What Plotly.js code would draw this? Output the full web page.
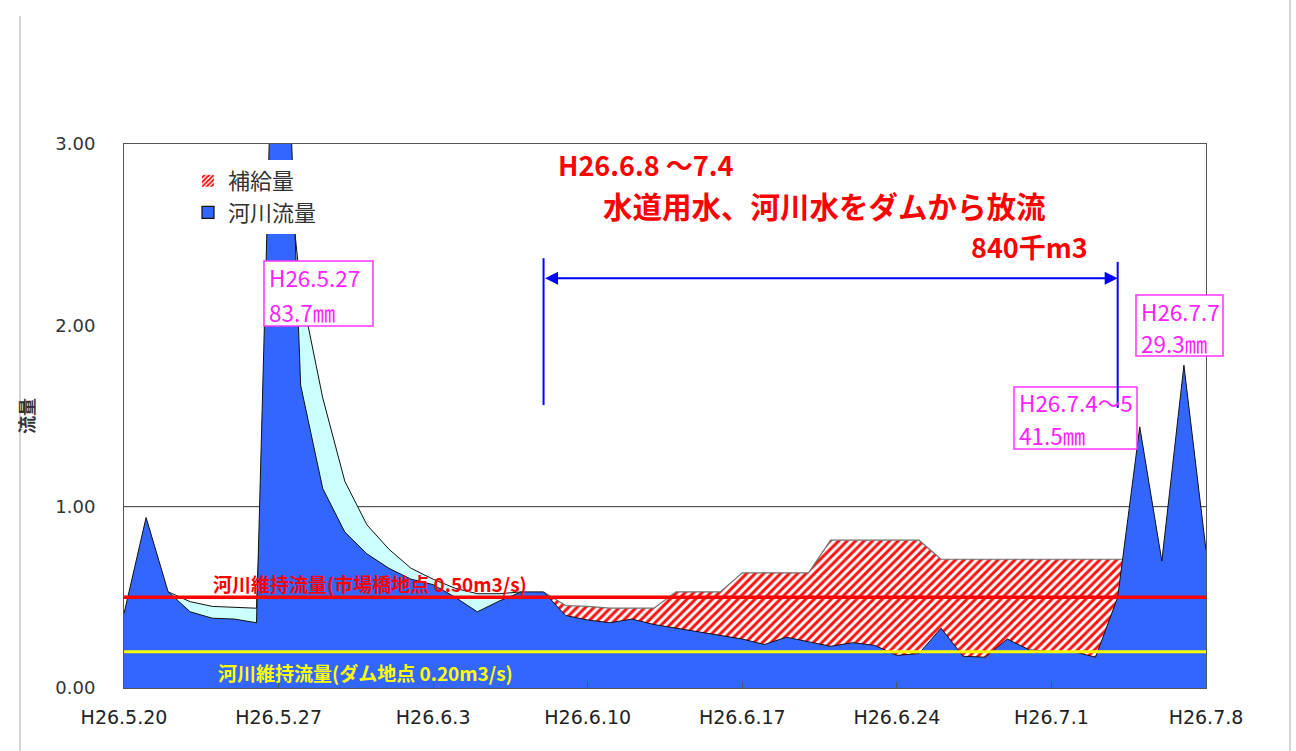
<!DOCTYPE html>
<html><head><meta charset="utf-8">
<script src="https://cdn.plot.ly/plotly-3.0.1.min.js"></script>
<style>html,body{margin:0;padding:0;background:#fff;} #chart{width:1296px;height:751px;}</style>
</head><body><div id="chart"></div>
<script>
// 日付（H26.5.20 〜 H26.7.8）
const dates = [
 '2014-05-20','2014-05-21','2014-05-22','2014-05-23','2014-05-24','2014-05-25','2014-05-26','2014-05-27','2014-05-28','2014-05-29',
 '2014-05-30','2014-05-31','2014-06-01','2014-06-02','2014-06-03','2014-06-04','2014-06-05','2014-06-06','2014-06-07','2014-06-08',
 '2014-06-09','2014-06-10','2014-06-11','2014-06-12','2014-06-13','2014-06-14','2014-06-15','2014-06-16','2014-06-17','2014-06-18',
 '2014-06-19','2014-06-20','2014-06-21','2014-06-22','2014-06-23','2014-06-24','2014-06-25','2014-06-26','2014-06-27','2014-06-28',
 '2014-06-29','2014-06-30','2014-07-01','2014-07-02','2014-07-03','2014-07-04','2014-07-05','2014-07-06','2014-07-07','2014-07-08'];

// 河川流量 (m3/s)
const riverFlow = [
 0.41,0.94,0.53,0.42,0.385,0.38,0.36,4.95,1.67,1.10,
 0.86,0.74,0.66,0.60,0.57,0.50,0.42,0.48,0.53,0.53,
 0.40,0.375,0.36,0.38,0.35,0.33,0.31,0.29,0.27,0.24,
 0.28,0.255,0.23,0.25,0.235,0.18,0.19,0.33,0.175,0.17,
 0.27,0.21,0.20,0.20,0.17,0.50,1.44,0.70,1.78,0.76];

// 補給量を加えた流量 (m3/s)
const supplyFlow = [
 null,null,null,null,null,null,null,null,null,null,
 null,null,null,null,null,null,null,null,null,0.53,
 0.455,0.45,0.44,0.44,0.44,0.53,0.53,0.53,0.635,0.635,
 0.635,0.635,0.815,0.815,0.815,0.815,0.815,0.71,0.71,0.71,
 0.71,0.71,0.71,0.71,0.71,0.71,0.71,null,null,null];

// 水色の流量帯 (m3/s)
const lightFlow = [
 null,null,0.53,0.476,0.45,0.443,0.44,3.4,2.2,1.6,
 1.14,0.90,0.765,0.66,0.60,0.55,0.52,0.52,0.53,null,
 null,null,null,null,null,null,null,null,null,null,
 null,null,null,null,null,null,null,null,null,null,
 null,null,null,null,null,null,null,null,null,null];

const tickDates = ['2014-05-20','2014-05-27','2014-06-03','2014-06-10','2014-06-17','2014-06-24','2014-07-01','2014-07-08'];
const tickLabels = ['H26.5.20','H26.5.27','H26.6.3','H26.6.10','H26.6.17','H26.6.24','H26.7.1','H26.7.8'];
const yTicks = [0, 1, 2, 3];

const marketFlow = 0.50;  // 河川維持流量(市場橋地点)
const damFlow = 0.20;     // 河川維持流量(ダム地点)

const releaseStart = '2014-06-08';
const releaseEnd = '2014-07-04';

const JP = '"Noto Sans CJK JP", "Noto Sans", sans-serif';
const NUM = '"DejaVu Sans", Arial, sans-serif';

const traces = [
  {type:'scatter', mode:'lines', x:dates, y:lightFlow, fill:'tozeroy', fillcolor:'#ccffff',
   line:{color:'#111', width:1}, showlegend:false, hoverinfo:'skip', name:'流量'},
  {type:'scatter', mode:'lines', x:dates, y:supplyFlow, fill:'tozeroy', fillcolor:'#ffffff',
   fillpattern:{shape:'/', fgcolor:'#ff1010', bgcolor:'#ffffff', size:6, solidity:0.5},
   line:{color:'#707070', width:1.2}, showlegend:false, name:'補給量'},
  {type:'scatter', mode:'lines', x:dates, y:riverFlow, fill:'tozeroy', fillcolor:'#3366ff',
   line:{color:'#111', width:1}, showlegend:false, name:'河川流量'},
  {type:'bar', x:[null], y:[null], name:'補給量',
   marker:{color:'#ffffff', pattern:{shape:'/', fgcolor:'#ff0000', bgcolor:'#ffffff', size:4, solidity:0.55}, line:{width:0}}},
  {type:'bar', x:[null], y:[null], name:'河川流量',
   marker:{color:'#3366ff', line:{color:'#111', width:1.2}}}
];

const px = v => (v - 124) / 1082;
const py = v => (688 - v) / 544;

const shapes = [
  {type:'line', xref:'paper', yref:'y', x0:0, x1:1, y0:1, y1:1, layer:'below', line:{color:'#333', width:1}},
  {type:'line', xref:'paper', yref:'y', x0:0, x1:1, y0:marketFlow, y1:marketFlow, line:{color:'#ff0000', width:3.5}},
  {type:'line', xref:'paper', yref:'y', x0:0, x1:1, y0:damFlow, y1:damFlow, line:{color:'#ffff00', width:3}},
  // rain boxes
  {type:'rect', xref:'paper', yref:'paper', x0:px(264), x1:px(373), y0:py(326), y1:py(261), fillcolor:'#fff', line:{color:'#ff33ff', width:1.5}},
  {type:'rect', xref:'paper', yref:'paper', x0:px(1136), x1:px(1223), y0:py(356), y1:py(295), fillcolor:'#fff', line:{color:'#ff33ff', width:1.5}},
  {type:'rect', xref:'paper', yref:'paper', x0:px(1014), x1:px(1137), y0:py(449), y1:py(387), fillcolor:'#fff', line:{color:'#ff33ff', width:1.5}},
  // bracket
  {type:'line', xref:'x', yref:'y', x0:releaseStart, x1:releaseStart, y0:1.56, y1:2.37, line:{color:'#0000ff', width:2}},
  {type:'line', xref:'x', yref:'y', x0:releaseEnd, x1:releaseEnd, y0:1.545, y1:2.35, line:{color:'#0000ff', width:2}},
  // outer frame lines
  {type:'line', xref:'paper', yref:'paper', x0:px(20), x1:px(20), y0:py(16), y1:py(751), line:{color:'#aaa', width:1}},
  {type:'line', xref:'paper', yref:'paper', x0:px(1290), x1:px(1290), y0:py(0), y1:py(751), line:{color:'#aaa', width:1}}
];

const mag = '#ff22ff';
const annotations = [
  {xref:'x', yref:'y', x:releaseEnd, y:2.26, ax:releaseStart, ay:2.26, axref:'x', ayref:'y', text:'',
   showarrow:true, arrowside:'end+start', arrowhead:2, arrowsize:1.3, arrowwidth:2, arrowcolor:'#0000ff'},
  {xref:'paper', yref:'paper', x:px(557), y:py(164), xanchor:'left', yanchor:'middle', showarrow:false, borderpad:0,
   text:'<b>H26.6.8 ～7.4</b>', font:{family:JP, size:27, color:'#ff0000'}},
  {xref:'paper', yref:'paper', x:px(602), y:py(205), xanchor:'left', yanchor:'middle', showarrow:false, borderpad:0,
   text:'<b>水道用水、河川水をダムから放流</b>', font:{family:JP, size:29.5, color:'#ff0000'}},
  {xref:'paper', yref:'paper', x:px(970), y:py(246), xanchor:'left', yanchor:'middle', showarrow:false, borderpad:0,
   text:'<b>840千m3</b>', font:{family:JP, size:27, color:'#ff0000'}},
  {xref:'paper', yref:'paper', x:px(267), y:py(277), xanchor:'left', yanchor:'middle', showarrow:false,
   text:'H26.5.27', font:{family:JP, size:22.5, color:mag}},
  {xref:'paper', yref:'paper', x:px(267), y:py(312), xanchor:'left', yanchor:'middle', showarrow:false,
   text:'83.7㎜', font:{family:JP, size:22.5, color:mag}},
  {xref:'paper', yref:'paper', x:px(1139), y:py(311), xanchor:'left', yanchor:'middle', showarrow:false,
   text:'H26.7.7', font:{family:JP, size:22.5, color:mag}},
  {xref:'paper', yref:'paper', x:px(1139), y:py(343), xanchor:'left', yanchor:'middle', showarrow:false,
   text:'29.3㎜', font:{family:JP, size:22.5, color:mag}},
  {xref:'paper', yref:'paper', x:px(1017), y:py(402), xanchor:'left', yanchor:'middle', showarrow:false,
   text:'H26.7.4～5', font:{family:JP, size:22.5, color:mag}},
  {xref:'paper', yref:'paper', x:px(1017), y:py(435), xanchor:'left', yanchor:'middle', showarrow:false,
   text:'41.5㎜', font:{family:JP, size:22.5, color:mag}},
  {xref:'paper', yref:'y', x:px(211), y:0.574, xanchor:'left', yanchor:'middle', showarrow:false,
   text:'<b>河川維持流量(市場橋地点 0.50m3/s)</b>', font:{family:JP, size:19, color:'#ff0000'}},
  {xref:'paper', yref:'y', x:px(216), y:0.088, xanchor:'left', yanchor:'middle', showarrow:false,
   text:'<b>河川維持流量(ダム地点 0.20m3/s)</b>', font:{family:JP, size:19, color:'#ffff00'}}
];

const layout = {
  width:1296, height:751,
  margin:{l:124, r:90, t:144, b:63, pad:0},
  paper_bgcolor:'#fff', plot_bgcolor:'#fff',
  font:{family:JP, color:'#333'},
  showlegend:true,
  legend:{x:px(188), y:py(160), xanchor:'left', yanchor:'top', bgcolor:'#fff', borderwidth:0,
          font:{family:JP, size:22, color:'#333'}, tracegroupgap:0},
  xaxis:{type:'date', range:['2014-05-20','2014-07-08'], tickvals:tickDates, ticktext:tickLabels,
         ticks:'inside', ticklen:6, tickcolor:'#555', showgrid:false, zeroline:false,
         showline:true, mirror:true, linecolor:'#555', linewidth:1,
         tickfont:{family:NUM, size:19, color:'#222'}, ticklabelstandoff:12, fixedrange:true},
  yaxis:{range:[0,3], tickvals:yTicks, tickformat:'.2f', ticks:'', showgrid:false, zeroline:false,
         showline:true, mirror:true, linecolor:'#555', linewidth:1,
         tickfont:{family:NUM, size:18, color:'#333'}, ticklabelstandoff:24,
         title:{text:'<b>流量</b>', font:{family:JP, size:18, color:'#333'}, standoff:16}, fixedrange:true},
  shapes:shapes,
  annotations:annotations,
  barmode:'overlay'
};

Plotly.newPlot('chart', traces, layout, {displayModeBar:false, staticPlot:true});
</script>
</body></html>
